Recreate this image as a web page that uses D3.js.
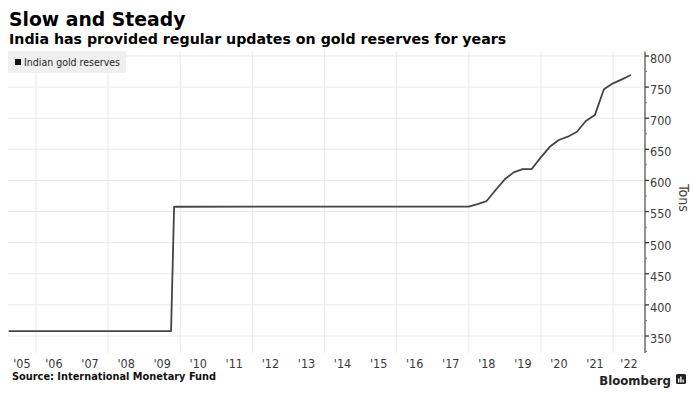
<!DOCTYPE html>
<html>
<head>
<meta charset="utf-8">
<script src="https://cdn.jsdelivr.net/npm/d3@7"></script>
<style>
  body { margin: 0; background: #fff; }
  svg { display: block; }
  .cond { font-family: "DejaVu Sans Condensed", "DejaVu Sans", sans-serif; font-stretch: condensed; }
</style>
</head>
<body>
<svg id="chart"></svg>
<script>
// values (tons, end of period)
const dates = ["2005-03-31", "2009-09-30", "2009-10-31", "2017-12-31",
  "2018-03-31", "2018-06-30", "2018-09-30", "2018-12-31",
  "2019-03-31", "2019-06-30", "2019-09-30", "2019-12-31",
  "2020-03-31", "2020-06-30", "2020-09-30", "2020-12-31",
  "2021-03-31", "2021-06-30", "2021-09-30", "2021-12-31",
  "2022-03-31", "2022-06-30"];
const reserves = [357.7, 357.7, 557.7, 558.0,
  562.0, 566.9, 584.6, 601.8,
  613.0, 618.3, 618.3, 637.0,
  654.0, 665.0, 670.3, 678.3,
  695.5, 705.0, 746.5, 756.0,
  762.5, 769.5];
const yTicks = [350, 400, 450, 500, 550, 600, 650, 700, 750, 800];
const yMinorTicks = [325, 375, 425, 475, 525, 575, 625, 675, 725, 775];
const gridYears = [2006, 2008, 2010, 2012, 2014, 2016, 2018, 2020, 2022];
const labelYears = d3.range(2005, 2023);
const xDomain = ["2005-03-24", "2022-11-20"];
const yDomain = [322.7, 807.2];

const title = "Slow and Steady";
const subtitle = "India has provided regular updates on gold reserves for years";
const seriesName = "Indian gold reserves";
const source = "Source: International Monetary Fund";

const width = 693, height = 393;
const plot = {left: 8, right: 645, top: 51.5, bottom: 353};
const parse = d3.timeParse("%Y-%m-%d");
const data = dates.map((d, i) => ({date: parse(d), value: reserves[i]}));

const svg = d3.select("#chart").attr("width", width).attr("height", height);

const x = d3.scaleTime()
  .domain(xDomain.map(parse))
  .range([plot.left, plot.right]);
const y = d3.scaleLinear()
  .domain(yDomain)
  .range([plot.bottom, plot.top]);

// titles
svg.append("text")
  .attr("x", 9).attr("y", 26)
  .style("font-family", "DejaVu Sans, sans-serif")
  .style("font-weight", "bold").style("font-size", "18.8px")
  .attr("fill", "#000")
  .text(title);
svg.append("text")
  .attr("x", 9).attr("y", 44)
  .style("font-family", "DejaVu Sans, sans-serif")
  .style("font-weight", "bold").style("font-size", "14.2px")
  .attr("fill", "#000")
  .text(subtitle);

// grid
const yearStart = yr => new Date(yr, 0, 1);
svg.append("g").selectAll("line")
  .data(gridYears)
  .join("line")
  .attr("x1", d => x(yearStart(d))).attr("x2", d => x(yearStart(d)))
  .attr("y1", plot.top).attr("y2", plot.bottom)
  .attr("stroke", "#e9e9e9").attr("stroke-width", 1);
svg.append("g").selectAll("line")
  .data(yTicks)
  .join("line")
  .attr("x1", plot.left).attr("x2", plot.right)
  .attr("y1", d => y(d)).attr("y2", d => y(d))
  .attr("stroke", "#e9e9e9").attr("stroke-width", 1);

// legend
const legend = svg.append("g");
legend.append("rect")
  .attr("x", plot.left).attr("y", 51)
  .attr("width", 118).attr("height", 22)
  .attr("fill", "#efefef");
legend.append("rect")
  .attr("x", 15).attr("y", 59)
  .attr("width", 6).attr("height", 6)
  .attr("fill", "#111");
legend.append("text")
  .attr("class", "cond")
  .attr("x", 24).attr("y", 66)
  .style("font-size", "10.5px")
  .attr("fill", "#222")
  .text(seriesName);

// line
const line = d3.line()
  .x(d => x(d.date))
  .y(d => y(d.value));
svg.append("path")
  .datum(data)
  .attr("fill", "none")
  .attr("stroke", "#444")
  .attr("stroke-width", 1.8)
  .attr("stroke-linejoin", "round")
  .attr("d", line);

// right axis
const yAxis = svg.append("g")
  .attr("transform", "translate(" + plot.right + ",0)");
yAxis.append("line")
  .attr("y1", plot.top).attr("y2", plot.bottom)
  .attr("stroke", "#555").attr("stroke-width", 1.3);
yAxis.selectAll(".major")
  .data(yTicks)
  .join("line")
  .attr("class", "major")
  .attr("x1", 0).attr("x2", 4)
  .attr("y1", d => y(d)).attr("y2", d => y(d))
  .attr("stroke", "#333").attr("stroke-width", 1.3);
yAxis.selectAll(".minor")
  .data(yMinorTicks)
  .join("line")
  .attr("class", "minor")
  .attr("x1", 0).attr("x2", 2)
  .attr("y1", d => y(d)).attr("y2", d => y(d))
  .attr("stroke", "#777").attr("stroke-width", 1);
yAxis.selectAll("text")
  .data(yTicks)
  .join("text")
  .attr("class", "cond")
  .attr("x", 5).attr("y", d => y(d))
  .attr("dy", "0.55em")
  .style("font-size", "12.5px")
  .attr("fill", "#3a3a3a")
  .text(d => d);

svg.append("text")
  .attr("class", "cond")
  .attr("transform", "translate(679,198) rotate(90)")
  .attr("text-anchor", "middle")
  .style("font-size", "14px")
  .attr("fill", "#444")
  .text("Tons");

// x labels, centred on the visible part of each year
svg.append("g").selectAll("text")
  .data(labelYears)
  .join("text")
  .attr("class", "cond")
  .attr("x", d => {
    const a = Math.max(x(yearStart(d)), plot.left);
    const b = Math.min(x(yearStart(d + 1)), plot.right);
    return (a + b) / 2;
  })
  .attr("y", 368)
  .attr("text-anchor", "middle")
  .style("font-size", "12.5px")
  .attr("fill", "#3a3a3a")
  .text(d => "'" + String(d).slice(2));

// footer
svg.append("text")
  .attr("x", 12).attr("y", 380)
  .style("font-family", "DejaVu Sans, sans-serif")
  .style("font-weight", "bold").style("font-size", "9.8px")
  .attr("fill", "#111")
  .text(source);
svg.append("text")
  .attr("class", "cond")
  .attr("x", 671).attr("y", 385)
  .attr("text-anchor", "end")
  .style("font-weight", "bold").style("font-size", "13px")
  .attr("fill", "#222")
  .text("Bloomberg");
const logo = svg.append("g").attr("transform", "translate(676,374)");
logo.append("rect")
  .attr("width", 10).attr("height", 10).attr("rx", 1.5)
  .attr("fill", "#222");
logo.selectAll(".bar")
  .data([4, 6, 3])
  .join("rect")
  .attr("x", (d, i) => 2 + i * 2.2).attr("y", d => 8.5 - d)
  .attr("width", 1.4).attr("height", d => d)
  .attr("fill", "#fff");
</script>
</body>
</html>
